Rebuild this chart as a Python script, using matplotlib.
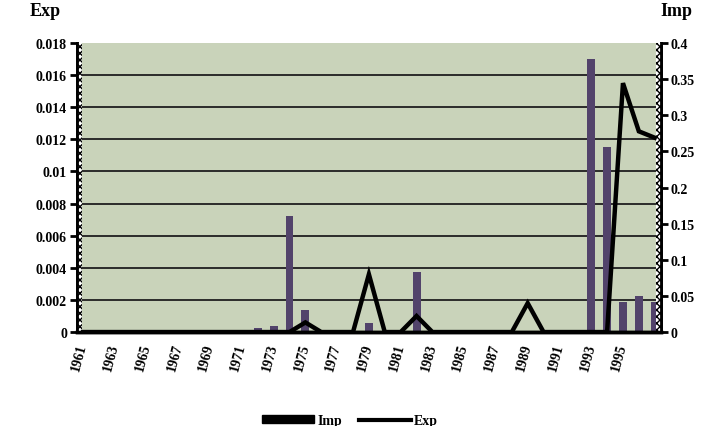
import matplotlib
matplotlib.use("Agg")
import matplotlib.pyplot as plt
from matplotlib.patches import Rectangle, Patch
from matplotlib.lines import Line2D
from matplotlib.ticker import FuncFormatter

# data
years = list(range(1961, 1998))
imp = [0, 0, 0, 0, 0, 0, 0, 0, 0, 0.003,          # 1961-1970
       0.003, 0.006, 0.008, 0.16, 0.03, 0, 0.003,  # 1971-1977
       0, 0.0125, 0, 0, 0.083, 0, 0, 0, 0, 0,      # 1978-1987
       0, 0, 0, 0, 0, 0.378, 0.256, 0.0415,        # 1988-1995
       0.05, 0.0415]                               # 1996-1997
exp = [0, 0, 0, 0, 0, 0, 0, 0, 0, 0,               # 1961-1970
       0, 0, 0, 0, 0.0006, 0, 0, 0, 0.0036, 0,     # 1971-1980
       0, 0.001, 0, 0, 0, 0, 0, 0, 0.0018, 0,      # 1981-1990
       0, 0, 0, 0, 0.0155, 0.0125, 0.0121]         # 1991-1997
exp_ticks = [0, 0.002, 0.004, 0.006, 0.008, 0.01, 0.012, 0.014, 0.016, 0.018]
imp_ticks = [0, 0.05, 0.1, 0.15, 0.2, 0.25, 0.3, 0.35, 0.4]
xlabels = list(range(1961, 1996, 2))

font = "Liberation Serif"
bg = "#c9d3ba"
bar_col = "#52436b"

fig = plt.figure(figsize=(7.17, 4.27), dpi=100)
ax = fig.add_axes([0.107, 0.22, 0.815, 0.677])
ax2 = ax.twinx()

# left axis (Exp) drawn on top so the line sits over the bars
ax.set_zorder(2)
ax.patch.set_visible(False)
ax2.set_zorder(1)
ax2.patch.set_visible(True)
ax2.patch.set_facecolor(bg)

ax.set_ylim(0, 0.018)
ax2.set_ylim(0, 0.4)
ax.set_xlim(1960.6, 1997.4)

# grid lines at the Exp ticks, behind the bars
for v in exp_ticks[1:-1]:
    ax2.axhline(v * 0.4 / 0.018, color="#2b2b2b", lw=1.4, zorder=0)

ax2.bar(years, imp, width=0.5, color=bar_col, zorder=2)
ax.plot(years, exp, color="black", lw=3.2, solid_joinstyle="miter")

# dotted strips along the side axes
for x0 in (0.0, 0.991):
    ax2.add_patch(Rectangle((x0, 0), 0.009, 1, transform=ax2.transAxes,
                            facecolor="white", edgecolor="black", hatch="xxxxx",
                            lw=0, zorder=3))

for a in (ax, ax2):
    a.spines["top"].set_visible(False)
    a.spines["left"].set_linewidth(2)
    a.spines["right"].set_linewidth(2)
    a.spines["bottom"].set_linewidth(2.5)

ax.set_yticks(exp_ticks)
ax2.set_yticks(imp_ticks)
fmt = FuncFormatter(lambda v, p: "%g" % v)
ax.yaxis.set_major_formatter(fmt)
ax2.yaxis.set_major_formatter(fmt)
ax.tick_params(axis="y", length=5, width=2, pad=2)
ax2.tick_params(axis="y", length=5, width=2, pad=2)

ax.set_xticks(xlabels)
ax.set_xticklabels([str(y) for y in xlabels], rotation=75,
                   ha="right", va="center", rotation_mode="anchor")
ax.tick_params(axis="x", length=0, pad=8)

for lab in ax.get_yticklabels() + ax2.get_yticklabels() + ax.get_xticklabels():
    lab.set_fontfamily(font)
    lab.set_fontweight("bold")
    lab.set_fontsize(10)

fig.text(0.063, 0.972, "Exp", ha="center", va="center", fontfamily=font,
         fontweight="bold", fontsize=13)
fig.text(0.944, 0.972, "Imp", ha="center", va="center", fontfamily=font,
         fontweight="bold", fontsize=13)

handles = [Patch(facecolor="black", edgecolor="black"),
           Line2D([], [], color="black", lw=3)]
fig.legend(handles, ["Imp", "Exp"], loc="center", bbox_to_anchor=(0.488, 0.012),
           ncol=2, frameon=False, handlelength=3.8, handleheight=0.5,
           handletextpad=0.2, columnspacing=1.2,
           prop={"family": font, "weight": "bold", "size": 10})

fig.savefig("out.png", dpi=100)
